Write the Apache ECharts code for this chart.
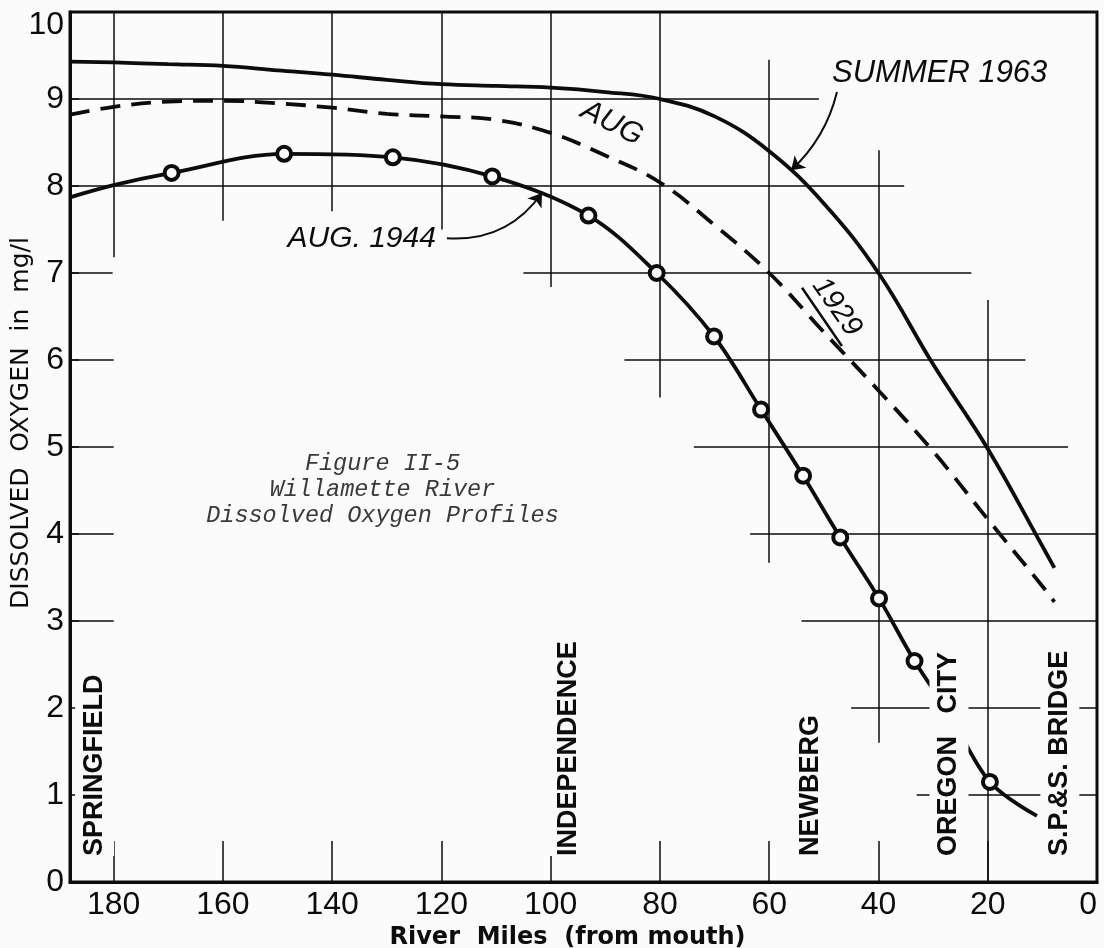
<!DOCTYPE html>
<html>
<head>
<meta charset="utf-8">
<script src="https://cdn.jsdelivr.net/npm/echarts@6/dist/echarts.min.js"></script>
<style>
html,body{margin:0;padding:0;background:#fbfbfb;}
#c{width:1104px;height:948px;}
</style>
</head>
<body>
<div id="c"></div>
<script>
// ---------------- data ----------------
const xTickMiles = [180, 160, 140, 120, 100, 80, 60, 40, 20, 0];
const yTickValues = [0, 1, 2, 3, 4, 5, 6, 7, 8, 9, 10];

const summer1963Miles = [188, 180, 170, 160, 150, 140, 130, 120, 110, 100, 90, 80, 70, 60, 50, 40, 30, 20, 10, 7.8];
const summer1963DO    = [9.43, 9.42, 9.40, 9.38, 9.33, 9.28, 9.22, 9.17, 9.15, 9.13, 9.08, 9.0, 8.8, 8.4, 7.8, 7.0, 5.95, 4.98, 3.86, 3.61];

const aug1929Miles = [188, 180, 170, 160, 150, 140, 130, 120, 110, 100, 90, 80, 70, 60, 50, 40, 30, 20, 10, 7.8];
const aug1929DO    = [8.82, 8.91, 8.97, 8.98, 8.95, 8.90, 8.83, 8.80, 8.76, 8.61, 8.35, 8.04, 7.55, 7.0, 6.32, 5.65, 4.95, 4.17, 3.40, 3.22];

// Aug 1944: measured stations (circles) and the drawn curve between/after them
const aug1944StationMiles = [169.4, 148.8, 128.9, 110.7, 93.1, 80.6, 70.1, 61.5, 53.8, 47.0, 39.9, 33.4, 19.6];
const aug1944StationDO    = [8.15, 8.37, 8.33, 8.11, 7.66, 7.0, 6.27, 5.43, 4.67, 3.96, 3.26, 2.54, 1.15];
const aug1944CurveMiles   = [188, 180, 27, 11];
const aug1944CurveDO      = [7.87, 8.01, 1.93, 0.76];

const locationNames = ['SPRINGFIELD', 'INDEPENDENCE', 'NEWBERG', 'OREGON   CITY', 'S.P.&S. BRIDGE'];
const locationMiles = [183.5, 96.7, 52.4, 27.1, 6.8];

// hand-drawn partial grid: horizontal [value, fromMile, toMile], vertical [mile, fromDO, toDO]
const gridH = [[9, 188, 50.9], [8, 188, 35.3], [7, 188, 180.2], [7, 105, 23], [6, 188, 180], [6, 86.5, 13.1],
               [5, 188, 180], [5, 73.8, 5.3], [4, 188, 180], [4, 63.5, 0], [3, 188, 180], [3, 54.1, 0],
               [2, 45, 0], [1, 33, 0]];
const gridV = [[180, 7.18, 10], [160, 7.6, 10], [140, 7.71, 10], [120, 7.5, 10], [100, 6.84, 10],
               [80, 5.57, 10], [60, 3.67, 9.45], [40, 1.6, 8.41], [20, 0, 6.69]];

// ---------------- chart ----------------
const INK = '#0c0c0c';
const BG = '#fbfbfb';
const SANS = 'Liberation Sans';

function pairs(xs, ys) { return xs.map((x, i) => [x, ys[i]]); }

const aug1944Data = pairs(aug1944StationMiles, aug1944StationDO).map(p => ({value: p, symbol: 'circle'}))
  .concat(pairs(aug1944CurveMiles, aug1944CurveDO).map(p => ({value: p, symbol: 'none'})))
  .sort((a, b) => b.value[0] - a.value[0]);

const gridLines = gridH.map(s => ({coords: [[s[1], s[0]], [s[2], s[0]]]}))
  .concat(gridV.map(s => ({coords: [[s[0], s[1]], [s[0], s[2]]]})));

function textSeries(name, point, label, z) {
  return {
    type: 'scatter', name: name, data: [point], symbolSize: 0, silent: true, z: z || 20,
    itemStyle: {opacity: 1},
    label: Object.assign({show: true, position: 'inside', color: INK, opacity: 1}, label)
  };
}

const chart = echarts.init(document.getElementById('c'));
chart.setOption({
  backgroundColor: BG,
  animation: false,
  grid: {left: 70, right: 7, top: 12, bottom: 66, show: true, borderColor: INK, borderWidth: 3,
         containLabel: false, outerBoundsMode: 'none'},
  xAxis: {
    type: 'value', min: 0, max: 188, interval: 20, inverse: true,
    axisLine: {show: true, onZero: false, lineStyle: {color: INK, width: 3}},
    axisTick: {show: true, inside: true, length: 41, lineStyle: {color: INK, width: 1.5}},
    axisLabel: {color: INK, fontSize: 32, fontFamily: SANS, margin: 7, showMaxLabel: false, alignMinLabel: 'right'},
    splitLine: {show: false},
    name: 'River  Miles  (from mouth)', nameLocation: 'middle', nameGap: 44, nameMoveOverlap: false,
    nameTextStyle: {color: INK, fontSize: 24, fontWeight: 'bold', fontFamily: 'DejaVu Sans', padding: [0, 32, 0, 0]}
  },
  yAxis: {
    type: 'value', min: 0, max: 10, interval: 1,
    axisLine: {show: true, onZero: false, lineStyle: {color: INK, width: 3}},
    axisTick: {show: true, inside: true, length: 9, lineStyle: {color: INK, width: 1.5}},
    axisLabel: {
      color: INK, fontSize: 32, fontFamily: SANS, margin: 6,
      formatter: v => (v === 10 ? '{top|10}' : String(v)),
      rich: {top: {fontSize: 32, fontFamily: SANS, color: INK, padding: [26, 0, 0, 0]}}
    },
    splitLine: {show: false},
    name: 'DISSOLVED  OXYGEN  in  mg/l', nameLocation: 'middle', nameGap: 36, nameMoveOverlap: false,
    nameTextStyle: {color: INK, fontSize: 25, fontFamily: 'DejaVu Sans', padding: [0, 0, 0, 48]}
  },
  series: [
    {
      type: 'lines', coordinateSystem: 'cartesian2d', silent: true, z: 1,
      lineStyle: {color: INK, width: 1.5, opacity: 1},
      data: gridLines
    },
    {
      type: 'line', name: 'SUMMER 1963', data: pairs(summer1963Miles, summer1963DO),
      smooth: 0.4, showSymbol: false, z: 5,
      lineStyle: {color: INK, width: 3.8}
    },
    {
      type: 'line', name: 'AUG 1929', data: pairs(aug1929Miles, aug1929DO),
      smooth: 0.4, showSymbol: false, z: 5,
      lineStyle: {color: INK, width: 3.8, type: [20, 11]}
    },
    {
      type: 'line', name: 'AUG. 1944', data: aug1944Data,
      smooth: 0.35, showSymbol: true, showAllSymbol: true, symbolSize: 14, z: 6,
      lineStyle: {color: INK, width: 3.8},
      itemStyle: {color: BG, borderColor: INK, borderWidth: 4}
    },
    // arrows
    {
      type: 'lines', coordinateSystem: 'cartesian2d', silent: true, z: 7,
      symbol: ['none', 'arrow'], symbolSize: 13,
      lineStyle: {color: INK, width: 2, opacity: 1},
      data: [
        {coords: [[47.6, 9.08], [56.0, 8.18]], lineStyle: {curveness: 0.15}},
        {coords: [[119, 7.4], [101.6, 7.92]], lineStyle: {curveness: -0.28}}
      ]
    },
    // underline of the "1929" annotation
    {
      type: 'lines', coordinateSystem: 'cartesian2d', silent: true, z: 7,
      lineStyle: {color: INK, width: 2.5, opacity: 1},
      data: [
        {coords: [[54.0, 6.83], [46.7, 6.16]]}
      ]
    },
    // location names
    {
      type: 'scatter', name: 'locations', symbolSize: 0, silent: true, z: 20,
      itemStyle: {opacity: 1},
      data: locationMiles.map((m, i) => ({value: [m, 0.3], name: locationNames[i]})),
      label: {
        show: true, position: 'inside', formatter: p => p.name, rotate: 90, align: 'left', verticalAlign: 'middle',
        color: INK, fontSize: 27, fontWeight: 'bold', fontFamily: SANS,
        backgroundColor: BG, padding: [6, 0, 6, 0]
      }
    },
    textSeries('t1963', [28.8, 9.3], {formatter: 'SUMMER 1963', fontSize: 31, fontStyle: 'italic', fontFamily: SANS}),
    textSeries('t1944', [134.6, 7.4], {formatter: 'AUG. 1944', fontSize: 30, fontStyle: 'italic', fontFamily: SANS}),
    textSeries('tAug', [88.8, 8.72], {formatter: 'AUG', fontSize: 30, fontStyle: 'italic', fontFamily: SANS, rotate: -27}),
    textSeries('t1929', [47.6, 6.61], {formatter: '1929', fontSize: 29, fontStyle: 'italic', fontFamily: SANS, rotate: -55}),
    textSeries('caption', [130.8, 4.51], {
      formatter: 'Figure II-5\nWillamette River\nDissolved Oxygen Profiles',
      fontSize: 23.5, lineHeight: 26, fontStyle: 'italic', fontFamily: 'Liberation Mono', color: '#3a3a3a', align: 'center'
    })
  ]
});
</script>
</body>
</html>
